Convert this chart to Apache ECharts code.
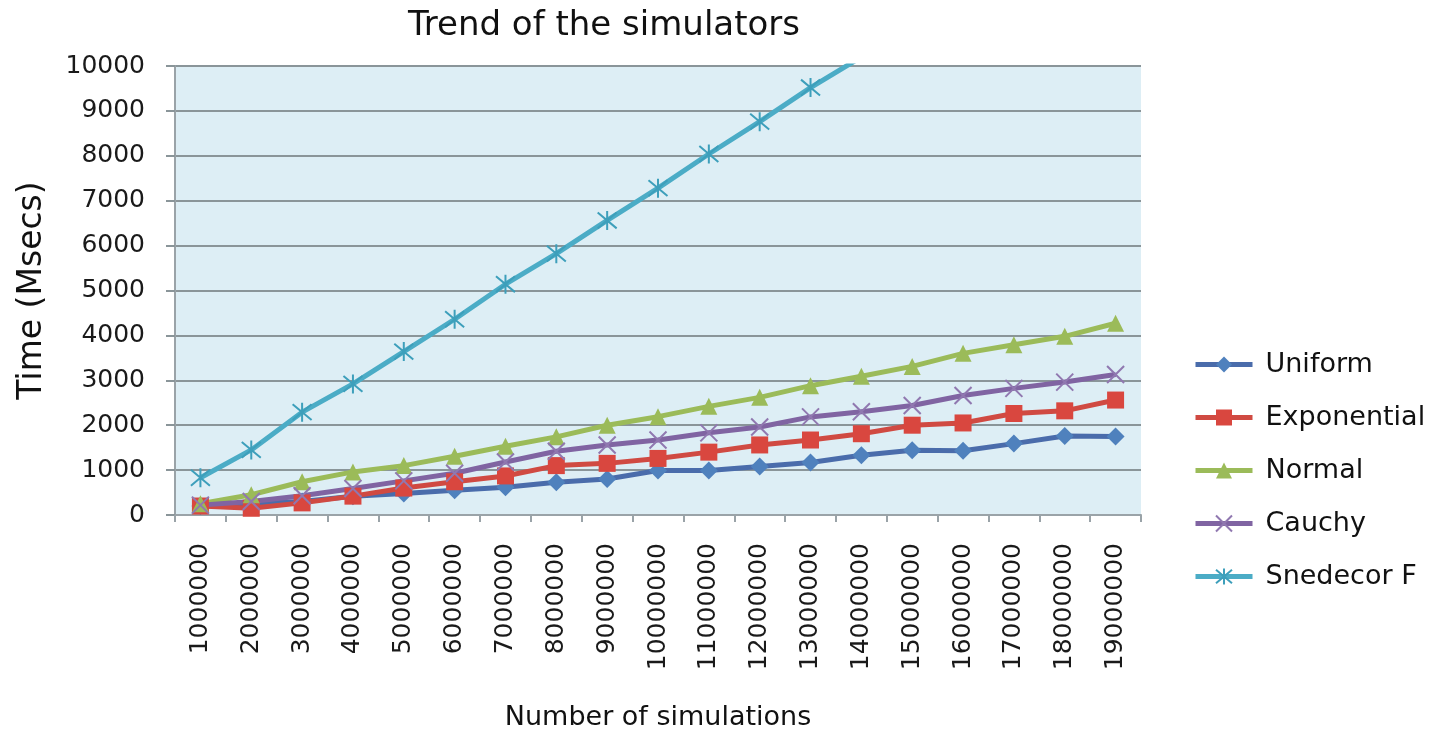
<!DOCTYPE html>
<html>
<head>
<meta charset="utf-8">
<script src="https://cdn.jsdelivr.net/npm/echarts@6/dist/echarts.min.js"></script>
<style>
html,body{margin:0;padding:0;background:#fff;}
#chart{width:1442px;height:732px;}
</style>
</head>
<body>
<div id="chart"></div>
<script>
var categories = ['1000000','2000000','3000000','4000000','5000000','6000000','7000000','8000000','9000000','10000000','11000000','12000000','13000000','14000000','15000000','16000000','17000000','18000000','19000000'];
var uniform     = [200, 250, 300, 420, 480, 550, 620, 730, 800, 990, 990, 1080, 1170, 1330, 1440, 1430, 1590, 1760, 1750];
var exponential = [200, 150, 270, 420, 600, 740, 870, 1100, 1150, 1260, 1400, 1560, 1670, 1810, 2000, 2050, 2260, 2320, 2560];
var normal      = [250, 450, 740, 960, 1100, 1310, 1530, 1740, 2000, 2190, 2420, 2620, 2880, 3090, 3310, 3600, 3790, 3980, 4270];
var cauchy      = [220, 300, 430, 590, 760, 930, 1180, 1420, 1560, 1670, 1830, 1960, 2185, 2300, 2440, 2660, 2820, 2960, 3130];
var snedecorF   = [830, 1450, 2290, 2920, 3640, 4360, 5140, 5820, 6560, 7280, 8040, 8760, 9520, 10200];
var seriesNames = ['Uniform','Exponential','Normal','Cauchy','Snedecor F'];
var yTicks = {min: 0, max: 10000, interval: 1000};

var FONT = '"DejaVu Sans", sans-serif';
var chart = echarts.init(document.getElementById('chart'));

function mk(name, data, lineColor, markColor, symbol, size, hollow) {
  return {
    name: name,
    type: 'line',
    data: data,
    symbol: symbol,
    symbolSize: size,
    clip: true,
    lineStyle: {color: lineColor, width: 5},
    itemStyle: hollow ? {color: 'rgba(0,0,0,0)', borderColor: markColor, borderWidth: 2}
                      : {color: markColor, borderWidth: 0},
    emphasis: {disabled: true}
  };
}

chart.setOption({
  animation: false,
  backgroundColor: '#ffffff',
  title: {
    text: 'Trend of the simulators',
    left: 599, top: 4, textAlign: 'center',
    textStyle: {fontFamily: FONT, fontSize: 34, fontWeight: 'normal', color: '#111'}
  },
  legend: {
    orient: 'vertical',
    left: 1188, top: 346,
    itemWidth: 57, itemHeight: 20, itemGap: 26,
    lineStyle: {width: 5},
    textStyle: {fontFamily: FONT, fontSize: 27, color: '#111', padding: [0,0,0,8]},
    data: seriesNames
  },
  grid: {
    left: 175, right: 301, top: 66, bottom: 217,
    outerBoundsMode: 'none',
    containLabel: false,
    show: true, backgroundColor: '#ddeef5', borderWidth: 0
  },
  xAxis: {
    type: 'category',
    data: categories,
    boundaryGap: true,
    name: 'Number of simulations',
    nameLocation: 'middle',
    nameGap: 189,
    nameTextStyle: {fontFamily: FONT, fontSize: 27, color: '#111'},
    axisLine: {lineStyle: {color: '#9aa3a8', width: 2}},
    axisTick: {show: true, alignWithLabel: false, length: 7, lineStyle: {color: '#9aa3a8', width: 2}},
    axisLabel: {rotate: 90, margin: 28, fontFamily: FONT, fontSize: 25, color: '#1a1a1a', interval: 0}
  },
  yAxis: {
    type: 'value',
    min: yTicks.min, max: yTicks.max, interval: yTicks.interval,
    name: 'Time (Msecs)',
    nameLocation: 'middle',
    nameGap: 126,
    nameTextStyle: {fontFamily: FONT, fontSize: 33, color: '#111'},
    axisLine: {show: true, lineStyle: {color: '#9aa3a8', width: 2}},
    axisTick: {show: true, length: 9, lineStyle: {color: '#8a9599', width: 2}},
    axisLabel: {margin: 30, fontFamily: FONT, fontSize: 25, color: '#1a1a1a',
      formatter: function (v) { return String(v); }},
    splitLine: {lineStyle: {color: '#8a9599', width: 2}}
  },
  series: [
    mk('Uniform', uniform, '#4a6cab', '#4f81bd', 'diamond', 18, false),
    mk('Exponential', exponential, '#d04a42', '#d9473f', 'rect', 17, false),
    mk('Normal', normal, '#9bbb59', '#9bbb59', 'triangle', 17, false),
    mk('Cauchy', cauchy, '#8064a2', '#9078b0', 'path://M0,0L10,10M10,0L0,10', 17, true),
    mk('Snedecor F', snedecorF, '#4bacc6', '#3d9fbb', 'path://M0,0L10,10M10,0L0,10M5,-1L5,11', 19, true)
  ]
});
</script>
</body>
</html>
